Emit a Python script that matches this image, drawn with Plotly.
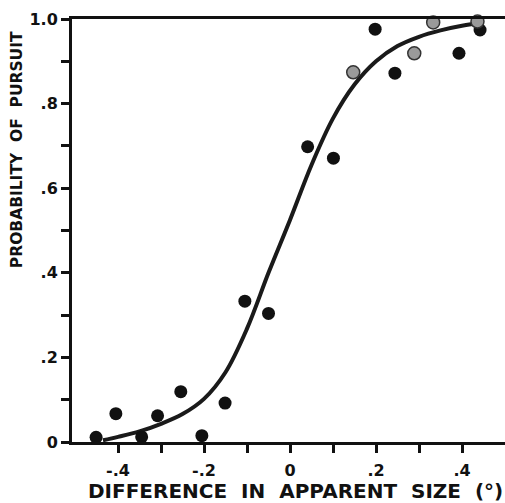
import plotly.graph_objects as go

# Observed data points (black)
black_x = [-0.451, -0.405, -0.345, -0.308, -0.254, -0.205, -0.151, -0.105, -0.050,
           0.041, 0.101, 0.198, 0.244, 0.393, 0.442]
black_y = [0.011, 0.067, 0.012, 0.062, 0.119, 0.015, 0.092, 0.333, 0.304,
           0.698, 0.671, 0.976, 0.872, 0.919, 0.974]
# Observed data points (grey / stippled)
grey_x = [0.147, 0.289, 0.333, 0.436]
grey_y = [0.874, 0.919, 0.992, 0.994]

# Fitted curve
curve_x = [-0.435, -0.40, -0.35, -0.30, -0.25, -0.20, -0.15, -0.10, -0.05, 0.00,
           0.05, 0.10, 0.15, 0.20, 0.25, 0.30, 0.35, 0.40, 0.45]
curve_y = [0.004, 0.012, 0.025, 0.043, 0.066, 0.102, 0.165, 0.268, 0.40, 0.525,
           0.655, 0.765, 0.845, 0.900, 0.936, 0.958, 0.973, 0.984, 0.991]

x_tickvals = [-0.4, -0.3, -0.2, -0.1, 0.0, 0.1, 0.2, 0.3, 0.4]
x_ticktext = ["-.4", "", "-.2", "", "0", "", ".2", "", ".4"]
y_tickvals = [0.0, 0.1, 0.2, 0.3, 0.4, 0.5, 0.6, 0.7, 0.8, 0.9, 1.0]
y_ticktext = ["0", "", ".2", "", ".4", "", ".6", "", ".8", "", "1.0"]

FONT = "DejaVu Sans"

fig = go.Figure()
fig.add_trace(go.Scatter(x=curve_x, y=curve_y, mode="lines",
                         line=dict(color="#1a1a1a", width=4, shape="spline"),
                         cliponaxis=False, hoverinfo="skip"))
fig.add_trace(go.Scatter(x=black_x, y=black_y, mode="markers",
                         marker=dict(size=13, color="#111111"),
                         cliponaxis=False))
fig.add_trace(go.Scatter(x=grey_x, y=grey_y, mode="markers",
                         marker=dict(size=13, color="#9a9a9a",
                                     line=dict(color="#333333", width=1.5)),
                         cliponaxis=False))

fig.update_layout(
    width=505, height=503,
    margin=dict(l=72, r=0, t=19, b=61),
    paper_bgcolor="white", plot_bgcolor="white",
    showlegend=False,
    font=dict(family=FONT, size=16, color="#111111", weight="bold"),
    xaxis=dict(range=[-0.507, 0.5], showgrid=False, zeroline=False,
               showline=True, linecolor="#111111", linewidth=3, mirror=True,
               ticks="outside", ticklen=8, tickwidth=2.5, tickcolor="#111111",
               tickmode="array", tickvals=x_tickvals, ticktext=x_ticktext,
               ticklabelstandoff=4,
               tickfont=dict(family=FONT, size=16, weight="bold")),
    yaxis=dict(range=[0, 1], showgrid=False, zeroline=False,
               showline=True, linecolor="#111111", linewidth=3, mirror=False,
               ticks="outside", ticklen=8, tickwidth=2.5, tickcolor="#111111",
               tickmode="array", tickvals=y_tickvals, ticktext=y_ticktext,
               tickfont=dict(family=FONT, size=16, weight="bold")),
    annotations=[
        dict(text="DIFFERENCE  IN  APPARENT  SIZE  (°)", xref="paper", yref="paper",
             x=0.516, y=0, yshift=-49, xanchor="center", yanchor="middle",
             showarrow=False, font=dict(family=FONT, size=20, weight="bold")),
        dict(text="PROBABILITY  OF  PURSUIT", xref="paper", yref="paper",
             x=0, y=0.69, xshift=-55, xanchor="center", yanchor="middle",
             textangle=-90, showarrow=False,
             font=dict(family=FONT, size=15.5, weight="bold")),
    ],
)

fig.write_html("out.html",
               config={"displayModeBar": False},
               post_script="document.body.style.margin='0';document.body.style.overflow='hidden';")
